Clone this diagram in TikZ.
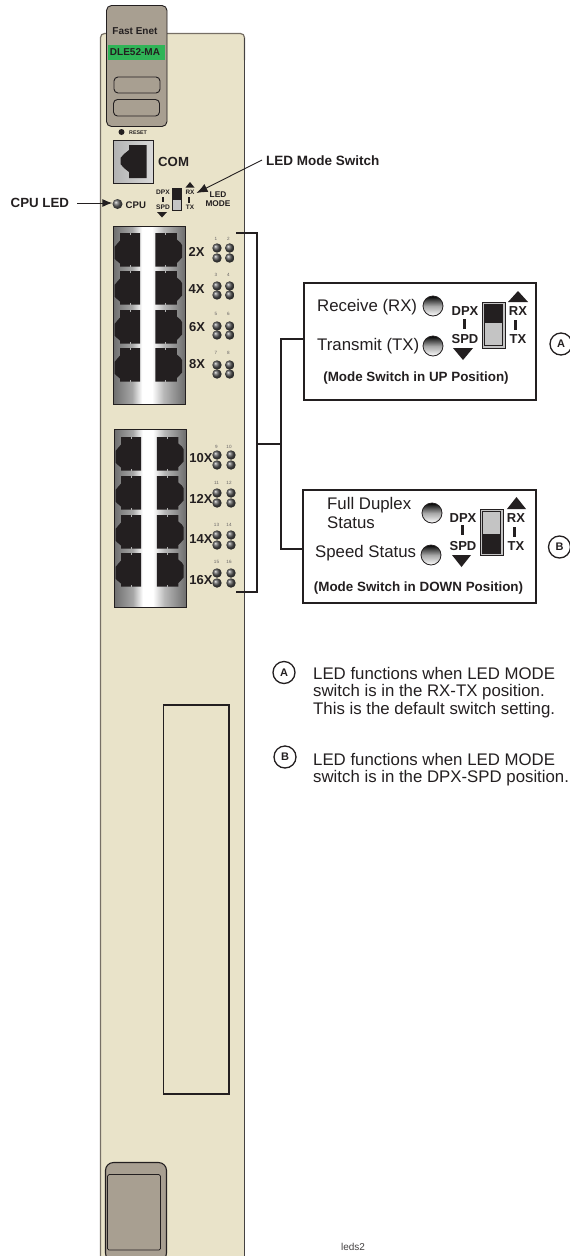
\documentclass[tikz,border=0pt]{standalone}
\usepackage{fontspec}
\setmainfont{Liberation Sans}
\usetikzlibrary{arrows.meta}
\definecolor{cardc}{HTML}{E9E3C9}
\definecolor{handc}{HTML}{A89F91}
\definecolor{greenc}{HTML}{2FB457}
\definecolor{inkc}{HTML}{231F20}
\definecolor{swgray}{HTML}{C4C4C4}
\definecolor{pa}{HTML}{6E6E6E}
\definecolor{pb}{HTML}{A6A6A6}
\definecolor{pc}{HTML}{FFFFFF}
\definecolor{pd}{HTML}{B8B8B8}
\pgfdeclarehorizontalshading{panelsh}{100bp}{color(0bp)=(pa); color(25bp)=(pa); color(38bp)=(pb); color(45bp)=(pc); color(52bp)=(pc); color(60bp)=(pd); color(75bp)=(pa); color(100bp)=(pa)}
\newcommand{\fsz}[1]{\fontsize{#1}{#1}\selectfont}
\tikzset{
  lab/.style={inner sep=0pt,text=inkc},
  blab/.style={inner sep=0pt,text=inkc,font=\bfseries\fsz{#1}},
  nlab/.style={inner sep=0pt,text=inkc,font=\fsz{#1}},
  tinynum/.style={inner sep=0pt,text=inkc!70,font=\fsz{4.6}},
  smallled/.style={circle,inner sep=0pt,minimum size=9.4pt,ball color=gray!65!black},
  bigled/.style={circle,draw=inkc,line width=0.8pt,inner sep=0pt,minimum size=20pt,top color=black,bottom color=white,middle color=gray!70},
  infobox/.style={draw=inkc,line width=1.2pt,inner sep=0pt,fill=white},
  wire/.style={draw=inkc,line width=1.2pt},
  callout/.style={circle,draw=inkc,line width=1.3pt,inner sep=0pt,minimum size=22pt,font=\bfseries\fsz{11},text=inkc},
  panel/.style={draw=inkc,line width=0.9pt,shading=panelsh},
  lefttjack/.pic={\fill[inkc] (5.5,0)--(25.5,0)--(25.5,33.7)--(5.5,33.7)--(5.5,30.5)--(2.5,28)--(0,25.5)--(0,14)--(2.5,11)--(5.5,7.5)--cycle;
    \draw[gray!60,line width=0.5pt] (16,0)--(16,1.8) (16,33.7)--(16,31.9);},
  rightjack/.pic={\fill[inkc] (0,0)--(21.5,0)--(21.5,6.5)--(25,9.5)--(26.7,12)--(26.7,24.5)--(24.5,27)--(21.5,30)--(21.5,33.7)--(0,33.7)--cycle;
    \draw[gray!60,line width=0.5pt] (10,0)--(10,1.8) (10,33.7)--(10,31.9);},
}
\begin{document}
\begin{tikzpicture}[x=1pt,y=-1pt]
\path[use as bounding box,clip] (0,0) rectangle (570,1256);
% card
\fill[cardc,rounded corners=4pt] (100.5,1270) -- (100.5,33.5) -- (244.5,33.5) -- (244.5,1270) -- cycle;
\draw[handc!70!black,line width=1.2pt,rounded corners=4pt] (100.5,1270) -- (100.5,33.5) -- (244.5,33.5) -- (244.5,60);
\draw[inkc!85,line width=0.9pt] (244.5,38) -- (244.5,1270);
% top handle
\draw[inkc,line width=0.9pt,fill=handc,rounded corners=5pt] (106.5,5.5) rectangle (167,126.5);
\fill[greenc] (108,45) rectangle (165,60);
\node[blab=10] (fastenet) at (135,31.5) {Fast Enet};
\node[blab=10] (dlelabel) at (135,52.5) {DLE52-MA};
\draw[inkc,line width=0.9pt,rounded corners=4pt] (114,77) rectangle (160,93);
\draw[inkc,line width=0.9pt,rounded corners=4pt] (113.5,99.5) rectangle (159.5,116);
% reset
\node[circle,fill=inkc,inner sep=0pt,minimum size=6pt] (resetdot) at (121.5,132) {};
\node[blab=5.3,anchor=west] (resetlbl) at (129,133) {RESET};
% COM
\draw[inkc,line width=0.9pt,left color=gray!60,right color=gray!30] (113.5,140) rectangle (153,183);
\fill[inkc] (129,145) -- (146.5,145) -- (146.5,178) -- (129,178) -- (129,172) -- (124,168) -- (120.5,164) -- (120.5,158) -- (124,154) -- (129,150) -- cycle;
\node[blab=13.2,anchor=west] (comlbl) at (158,162) {COM};
% CPU
\node[circle,inner sep=0pt,minimum size=10pt,ball color=gray!75!black] (cpuball) at (117.5,204) {};
\node[blab=9.6,anchor=west] (cpulbl) at (125.5,205) {CPU};
\node[blab=13.3,anchor=west] (cpucall) at (10.5,203) {CPU LED};
\coordinate (cputail) at (77,203);
\draw[-{Latex[length=10pt,width=8pt]},inkc,line width=0.9pt] (cputail) -- (cputail -| cpuball.west);
% small switch
\node[blab=6.6] (sdpx) at (163,192.5) {DPX};
\fill[inkc] (162.4,196.5) rectangle (163.8,202);
\node[blab=6.6] (sspd) at (163,207) {SPD};
\fill[inkc] (157,212) -- (167,212) -- (162,217.5) -- cycle;
\draw[inkc,line width=0.7pt,fill=swgray] (172.5,188.5) rectangle (181,210.5);
\fill[inkc] (172.5,188.5) rectangle (181,200);
\fill[inkc] (185.5,187.5) -- (194.5,187.5) -- (190,182) -- cycle;
\node[blab=6.4] (srx) at (190,192.5) {RX};
\fill[inkc] (188.3,197) rectangle (189.7,202.5);
\node[blab=6.4] (stx) at (190,207) {TX};
\node[blab=8.3] (ledword) at (218,195) {LED};
\node[blab=8.3] (modeword) at (218,204) {MODE};
\node[blab=13.5,anchor=west] (modesw) at (266,160.5) {LED Mode Switch};
\coordinate (mstail) at (262,160);
\coordinate (mshead) at (196.5,193);
\draw[-{Latex[length=11pt,width=9pt]},inkc,line width=0.9pt] (mstail) -- (mshead);
% port panels
\draw[panel] (113.5,226.5) rectangle (185,404);
\foreach \y in {233,271,310,348}{
  \pic at (114.5,\y) {lefttjack};
  \pic at (155.3,\y) {rightjack};
}
\draw[panel] (114,429) rectangle (186,607);
\foreach \y in {437,476,515,553}{
  \pic at (115.5,\y) {lefttjack};
  \pic at (156.8,\y) {rightjack};
}
% port labels
\node[blab=13] (l2x) at (196.5,252) {2X};
\node[blab=13] (l4x) at (196.5,289) {4X};
\node[blab=13] (l6x) at (197,327) {6X};
\node[blab=13] (l8x) at (197,364) {8X};
\node[blab=13] (l10x) at (201,458) {10X};
\node[blab=13] (l12x) at (201,499) {12X};
\node[blab=13] (l14x) at (201,539) {14X};
\node[blab=13] (l16x) at (201,580) {16X};
% LEDs
\foreach \ya/\yb/\na/\nb/\yn in {248/258/1/2/239,286/295/3/4/275,326/335/5/6/314,365/374/7/8/353}{
  \node[smallled] at (217,\ya) {};
  \node[smallled] at (217,\yb) {};
  \node[smallled] at (229.7,\ya) {};
  \node[smallled] at (229.7,\yb) {};
  \node[tinynum] at (216,\yn) {\na};
  \node[tinynum] at (228.5,\yn) {\nb};
}
\foreach \ya/\yb/\na/\nb/\yn in {455/465/9/10/447,493/503/11/12/483,535/545/13/14/525,573/583/15/16/562}{
  \node[smallled] at (217,\ya) {};
  \node[smallled] at (217,\yb) {};
  \node[smallled] at (231,\ya) {};
  \node[smallled] at (231,\yb) {};
  \node[tinynum] at (216.5,\yn) {\na};
  \node[tinynum] at (229,\yn) {\nb};
}
% info boxes
\node[infobox,minimum width=232pt,minimum height=117pt] (boxa) at (420,341.5) {};
\node[infobox,minimum width=233pt,minimum height=113pt] (boxb) at (419.5,546.5) {};
% wires
\coordinate (brtop) at (236,233);
\coordinate (brtopc) at (257,233);
\coordinate (brbot) at (236,592);
\coordinate (brbotc) at (257,592);
\coordinate (brj) at (257,444);
\coordinate (trj) at (281,444);
\coordinate (tra) at (281,339);
\coordinate (trb) at (281,549);
\path[wire] (brtop) -- (brtopc) -- (brbotc) -- (brbot);
\path[wire] (brj) -- (trj);
\path[wire] (tra -| boxa.west) -- (tra) -- (trb) -- (trb -| boxb.west);
% box A
\node[nlab=16.8,anchor=west] (rxt) at (317,307) {Receive (RX)};
\node[nlab=16.8,anchor=west] (txt) at (317,346.5) {Transmit (TX)};
\node[bigled] (leda1) at (433,306) {};
\node[bigled] (leda2) at (433,346) {};
\node[blab=13] (adpx) at (465,311) {DPX};
\fill[inkc] (462.5,319) rectangle (465.5,329);
\node[blab=13] (aspd) at (465,339) {SPD};
\fill[inkc] (453,348) -- (473,348) -- (463,360) -- cycle;
\draw[inkc,line width=1pt,fill=swgray] (482,302) rectangle (505,348);
\fill[inkc] (485,305) rectangle (502,323);
\draw[inkc,line width=0.5pt] (484.5,304.5) rectangle (502.5,345);
\fill[inkc] (508,302) -- (528,302) -- (518,291) -- cycle;
\node[blab=13] (arx) at (518,311) {RX};
\fill[inkc] (514,320) rectangle (517,330);
\node[blab=13] (atx) at (518,339) {TX};
\node[blab=13.4] (aup) at (416,378.5) {(Mode Switch in UP Position)};
\node[callout] (calla) at (561,344) {A};
% box B
\node[nlab=16.8,anchor=west] (fd1) at (327,505) {Full Duplex};
\node[nlab=16.8,anchor=west] (fd2) at (327,523) {Status};
\node[nlab=16.8,anchor=west] (sst) at (315,553) {Speed Status};
\node[bigled] (ledb1) at (432,513) {};
\node[bigled] (ledb2) at (431,555) {};
\node[blab=13] (bdpx) at (463,518) {DPX};
\fill[inkc] (461,525) rectangle (464,535);
\node[blab=13] (bspd) at (463,546) {SPD};
\fill[inkc] (452,555) -- (471,555) -- (461.5,567) -- cycle;
\draw[inkc,line width=1pt,fill=swgray] (480,509) rectangle (503,555);
\fill[inkc] (483,534) rectangle (500,553);
\draw[inkc,line width=0.5pt] (482.5,511) rectangle (500.5,553);
\fill[inkc] (507,509) -- (526,509) -- (516.5,497) -- cycle;
\node[blab=13] (brx) at (516,518) {RX};
\fill[inkc] (512.5,527) rectangle (515.5,537);
\node[blab=13] (btx) at (516,546) {TX};
\node[blab=13.4] (bdown) at (418.5,588) {(Mode Switch in DOWN Position)};
\node[callout] (callb) at (559.5,547) {B};
% notes
\node[callout] (notea) at (284,672.5) {A};
\node[callout] (noteb) at (285,757) {B};
\node[lab,anchor=north west,align=left,font=\fontsize{16.8}{17.6}\selectfont] (ta) at (313,667) {LED functions when LED MODE\\switch is in the RX-TX position.\\This is the default switch setting.};
\node[lab,anchor=north west,align=left,font=\fontsize{16.8}{17.6}\selectfont] (tb) at (313,753) {LED functions when LED MODE\\switch is in the DPX-SPD position.};
% slot
\draw[inkc,line width=1.1pt] (163.5,705) rectangle (229,1094);
% bottom handle
\draw[inkc,line width=1.1pt,fill=handc,rounded corners=8pt] (105.5,1162.5) rectangle (166.5,1261);
\draw[inkc,line width=0.7pt,rounded corners=1.5pt] (107.5,1174.5) rectangle (160.5,1250);
\node[lab,font=\fsz{10},text=inkc!85] (leds) at (353,1247) {leds2};
\end{tikzpicture}
\end{document}
